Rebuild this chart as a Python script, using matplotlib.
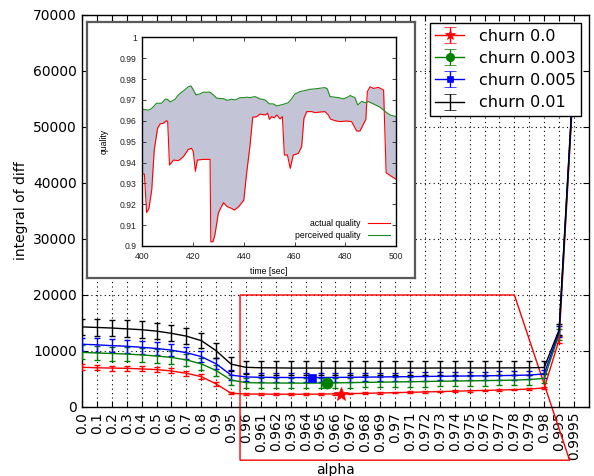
import numpy as np
import matplotlib
matplotlib.use('Agg')
import matplotlib.pyplot as plt
from matplotlib.patches import Polygon

# ---------------------------------------------------------------
# main chart data: alpha categories and integral of diff per churn
# ---------------------------------------------------------------
alpha_labels = ['0.0', '0.1', '0.2', '0.3', '0.4', '0.5', '0.6', '0.7', '0.8', '0.9',
                '0.95', '0.96', '0.961', '0.962', '0.963', '0.964', '0.965', '0.966',
                '0.967', '0.968', '0.969', '0.97', '0.971', '0.972', '0.973', '0.974',
                '0.975', '0.976', '0.977', '0.978', '0.979', '0.98', '0.995', '0.9995']

churn_names = ['churn 0.0', 'churn 0.003', 'churn 0.005', 'churn 0.01']

churn_000 = [7100, 7000, 6950, 6900, 6800, 6680, 6430, 6020, 5420, 4120, 2450,
             2320, 2300, 2290, 2280, 2280, 2300, 2340, 2390, 2440, 2500, 2560,
             2620, 2680, 2750, 2820, 2890, 2960, 3030, 3100, 3200, 3400, 12000, 59500]
churn_003 = [9750, 9650, 9550, 9450, 9300, 9100, 8850, 8400, 7700, 6500, 4800,
             4350, 4300, 4280, 4270, 4260, 4280, 4310, 4350, 4390, 4430, 4470,
             4510, 4550, 4590, 4630, 4670, 4710, 4750, 4800, 4900, 5100, 13000, 60000]
churn_005 = [11200, 11100, 10950, 10850, 10650, 10450, 10150, 9700, 9000, 7700, 5700,
             5360, 5300, 5280, 5260, 5250, 5260, 5280, 5300, 5330, 5360, 5390,
             5420, 5450, 5480, 5510, 5540, 5570, 5600, 5640, 5700, 5900, 13500, 60500]
churn_010 = [14300, 14200, 14100, 13950, 13800, 13550, 13150, 12650, 11850, 10050, 7650,
             7080, 7000, 6980, 6950, 6950, 6950, 6940, 6940, 6940, 6940, 6950,
             6950, 6950, 6960, 6960, 6970, 6970, 6980, 6980, 7000, 7050, 13800, 61000]

err_000 = [500, 450, 450, 450, 450, 450, 450, 420, 420, 400, 200] + [150] * 21 + [600, 1500]
err_003 = [1250, 1250, 1250, 1200, 1200, 1200, 1150, 1100, 1050, 1000, 950] + [900] * 21 + [1000, 1500]
err_005 = [1200, 1200, 1200, 1150, 1150, 1150, 1100, 1100, 1050, 1000, 850] + [750] * 21 + [1000, 1500]
err_010 = [1500, 1500, 1500, 1500, 1500, 1450, 1450, 1400, 1350, 1300, 1250] + [1200] * 21 + [1000, 1500]

# one highlighted marker per curve (position along the category axis)
marker_pos = [17.4, 16.45, 15.45, None]

# ---------------------------------------------------------------
# inset data: actual vs perceived quality over time
# ---------------------------------------------------------------
perceived_t = [400, 402.4, 403.7, 405.6, 407.6, 409, 409.9, 411, 412.9, 414.2, 416.2,
               418.1, 419.2, 420.1, 421.2, 422.8, 424, 426.7, 428, 429.4, 432, 433.4,
               435.2, 436.6, 438.5, 439.9, 441.2, 442.4, 444.4, 446.4, 448.4, 450.1,
               451.6, 453, 455.6, 457.6, 458.5, 460.2, 462.2, 464.2, 466.1, 468.1, 470,
               472, 472.9, 474, 477.3, 479.2, 480.6, 481.9, 483.8, 484.9, 486.5, 487.8,
               489.1, 491.1, 492.4, 493.7, 495.7, 497.6, 500]
perceived_q = [0.9655, 0.9651, 0.9659, 0.9684, 0.9684, 0.9703, 0.9703, 0.9690, 0.9703,
               0.9724, 0.9743, 0.9763, 0.9767, 0.9748, 0.9724, 0.9729, 0.9737, 0.9737,
               0.9724, 0.9708, 0.9706, 0.9698, 0.9703, 0.9700, 0.9711, 0.9711, 0.9713,
               0.9711, 0.9716, 0.9705, 0.9700, 0.9681, 0.9681, 0.9671, 0.9679, 0.9687,
               0.9700, 0.9729, 0.9740, 0.9745, 0.9751, 0.9753, 0.9756, 0.9759, 0.9753,
               0.9716, 0.9711, 0.9705, 0.9711, 0.9721, 0.9711, 0.9676, 0.9693, 0.9687,
               0.9692, 0.9681, 0.9673, 0.9665, 0.9645, 0.9628, 0.9620]

actual_t = [400, 400.8, 401.7, 402.6, 403.7, 404.7, 406, 407, 408.3, 409.4, 410, 410.7,
            412.3, 414.2, 416.2, 418.1, 419.4, 420.1, 420.9, 421.7, 424, 426.7, 427,
            427.8, 428.6, 430, 432, 433.4, 435.2, 436.3, 438, 440, 441.1, 442.4, 443.5,
            445.1, 446.4, 448.4, 449.4, 450.1, 451, 452, 453, 454.3, 455.2, 456, 457.2,
            458.3, 459.5, 461.5, 462.8, 463.7, 464.8, 466.8, 468.1, 470, 472, 473.3,
            474.2, 475.9, 477.9, 480.5, 482.5, 484.5, 485.8, 487.1, 488.1, 488.7, 489.8,
            491.1, 493.1, 494.4, 495.1, 496.1, 498.4, 500]
actual_q = [0.9345, 0.9345, 0.9160, 0.9180, 0.9268, 0.9460, 0.9564, 0.9585, 0.9588,
            0.9600, 0.9597, 0.9388, 0.9412, 0.9409, 0.9428, 0.9463, 0.9468, 0.9452,
            0.9358, 0.9412, 0.9415, 0.9415, 0.9020, 0.9020, 0.9053, 0.9160, 0.9208,
            0.9189, 0.9180, 0.9172, 0.9189, 0.9220, 0.9348, 0.9476, 0.9617, 0.9620,
            0.9632, 0.9628, 0.9636, 0.9607, 0.9620, 0.9614, 0.9628, 0.9609, 0.9620,
            0.9436, 0.9436, 0.9372, 0.9436, 0.9444, 0.9476, 0.9612, 0.9644, 0.9644,
            0.9639, 0.9642, 0.9644, 0.9628, 0.9608, 0.9601, 0.9596, 0.9599, 0.9596,
            0.9551, 0.9551, 0.9583, 0.9607, 0.9740, 0.9763, 0.9755, 0.9760, 0.9752,
            0.9747, 0.9351, 0.9332, 0.9320]

inset_xticks = [400, 420, 440, 460, 480, 500]
inset_yticks = [0.9, 0.91, 0.92, 0.93, 0.94, 0.95, 0.96, 0.97, 0.98, 0.99, 1.0]


def draw_main(fig):
    ax = fig.add_axes([0.138, 0.145, 0.8535, 0.8235])
    x = np.arange(len(alpha_labels))
    series = [churn_000, churn_003, churn_005, churn_010]
    errors = [err_000, err_003, err_005, err_010]
    colors = ['red', 'green', 'blue', 'black']
    markers = ['*', 'o', 's', None]
    msizes = [10, 8, 6, 0]

    handles = []
    for vals, err, col, mk, ms, mp, name in zip(series, errors, colors, markers,
                                              msizes, marker_pos, churn_names):
        ax.errorbar(x, vals, yerr=err, color=col, lw=1, elinewidth=1,
                    capsize=2.5, capthick=1, zorder=3)
        if mk is not None:
            ax.plot([mp], [np.interp(mp, x, vals)], ls='none', marker=mk,
                    color=col, mec=col, ms=ms, mew=0.5, zorder=4)
        # proxy artist for the legend (marker + error bar sample)
        h = ax.errorbar([np.nan], [np.nan], yerr=[1], color=col, lw=1,
                        marker=mk, ms=ms * 0.75, mec=col, mew=0.5, capsize=4, label=name)
        handles.append(h)

    ax.set_xlim(0, 34)
    ax.set_ylim(0, 70000)
    ax.set_xticks(x)
    ax.set_xticklabels(alpha_labels, rotation=90, fontsize=10)
    ax.set_yticks(np.arange(0, 70001, 10000))
    ax.tick_params(axis='y', labelsize=10)
    ax.tick_params(direction='in', top=True, right=True, length=4, width=0.8)
    ax.grid(True, color='black', linestyle=(0, (1, 3)), linewidth=0.8)
    ax.set_xlabel('alpha', fontsize=10, labelpad=2)
    ax.set_ylabel('integral of diff', fontsize=10, labelpad=4)
    for sp in ax.spines.values():
        sp.set_linewidth(1)

    # red zoom outline around the 0.96 - 0.98 region
    outline = Polygon([[10.6, 20000], [29.0, 20000], [32.7, -9500], [10.6, -9500]],
                      closed=True, fill=False, edgecolor='red', lw=1,
                      clip_on=False, zorder=2)
    ax.add_patch(outline)

    leg = ax.legend(handles=handles, loc='upper right', fontsize=11.5,
                    fancybox=False, edgecolor='black', framealpha=1,
                    handlelength=1.8, labelspacing=0.45, borderpad=0.35,
                    handletextpad=0.9)
    leg.get_frame().set_linewidth(1)
    leg.set_zorder(10)
    return ax


def draw_inset(fig):
    # framed white box holding the quality plot
    frame = fig.add_axes([0.1465, 0.416, 0.5522, 0.5378])
    frame.set_xticks([])
    frame.set_yticks([])
    frame.set_facecolor('white')
    for sp in frame.spines.values():
        sp.set_color('#5a5a5a')
        sp.set_linewidth(1.6)
    frame.set_zorder(5)

    ax = fig.add_axes([0.2396, 0.4832, 0.4271, 0.4384])
    ax.set_zorder(6)
    ax.set_facecolor('white')
    grid_t = np.union1d(perceived_t, actual_t)
    p_on = np.interp(grid_t, perceived_t, perceived_q)
    a_on = np.interp(grid_t, actual_t, actual_q)
    ax.fill_between(grid_t, a_on, p_on, color='#c3c5d7', lw=0)
    ax.plot(actual_t, actual_q, color='#ff0000', lw=0.8, label='actual quality')
    ax.plot(perceived_t, perceived_q, color='#1e8c1e', lw=0.8, label='perceived quality')
    ax.set_xlim(400, 500)
    ax.set_ylim(0.9, 1.0)
    ax.set_xticks(inset_xticks)
    ax.set_yticks(inset_yticks)
    ax.set_yticklabels(['%g' % v for v in inset_yticks])
    ax.tick_params(direction='in', top=True, right=True, length=3, width=0.6,
                   labelsize=6.2, colors='#222222', pad=4)
    for lab in ax.get_xticklabels() + ax.get_yticklabels():
        lab.set_family('Liberation Sans')
    ax.set_xlabel('time [sec]', fontsize=6.2, family='Liberation Sans', labelpad=5)
    ax.set_ylabel('quality', fontsize=6.2, family='Liberation Sans', labelpad=8)
    for sp in ax.spines.values():
        sp.set_linewidth(1)
    ax.legend(loc='lower right', frameon=False, markerfirst=False,
              prop={'family': 'Liberation Sans', 'size': 6.2},
              handlelength=2.6, labelspacing=0.3, borderaxespad=0.3)
    return ax


if __name__ == '__main__':
    fig = plt.figure(figsize=(5.94, 4.76), dpi=100)
    fig.patch.set_facecolor('white')
    draw_main(fig)
    draw_inset(fig)
    fig.savefig('out.png', dpi=100, facecolor='white')
